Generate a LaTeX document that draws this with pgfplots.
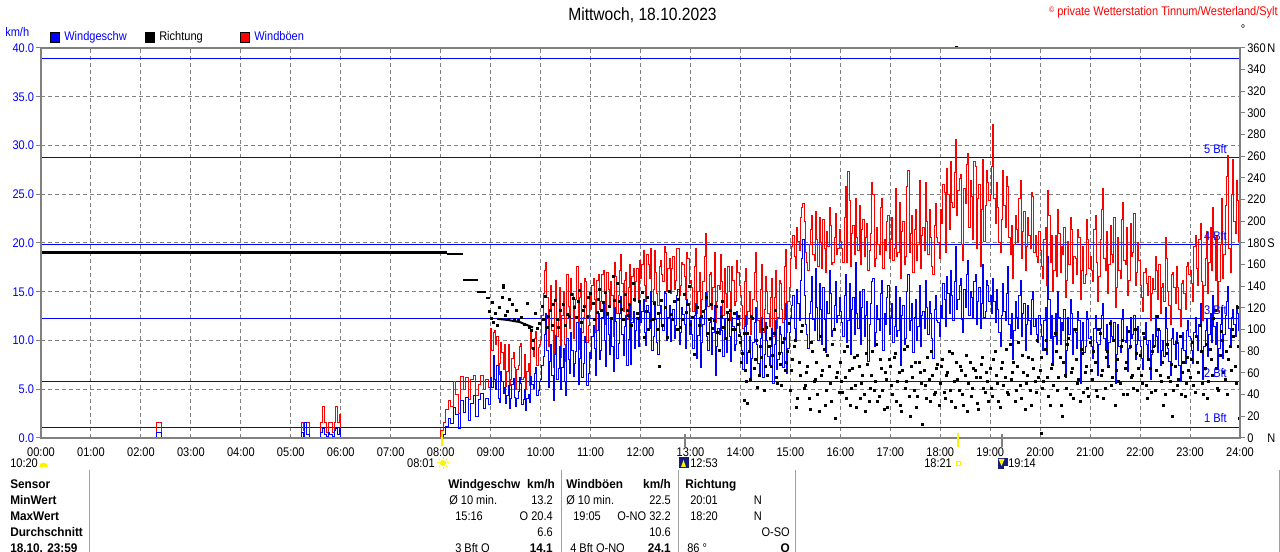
\documentclass[border=0pt]{standalone}
\usepackage{fontspec}
\setmainfont{Liberation Sans}[FakeStretch=0.88]
\newfontfamily\bff{Liberation Sans}[FakeStretch=0.94]
\usepackage{pgfplots}
\pgfplotsset{compat=1.18}
\usepackage{pgfplotstable}
\definecolor{wblue}{RGB}{0,0,255}
\definecolor{wred}{RGB}{255,0,0}
\definecolor{wgray}{RGB}{128,128,128}
\definecolor{lgray}{RGB}{160,160,160}
\definecolor{mblue}{RGB}{20,30,120}
\newcommand\tk{\fontsize{9.4}{11}\selectfont}
\newcommand\tb{\fontsize{9.4}{11}\bff\bfseries}
\newcommand\dl[2]{\makebox[15pt][l]{#1}#2}

\pgfplotstableread{
m v g
0 0 0
139 0.6 1.6
142 0.6 1.6
145 0 0
313 0.6 1.6
315 0.2 0.8
316 1.6 1.6
319 0.4 1.6
322 0 0
336 0.6 1.6
338 1.0 3.2
340 0.4 1.6
343 0.2 0.6
345 0.6 1.6
347 0.4 1.6
350 0.2 0.6
352 0.8 1.6
354 1.0 3.2
356 0.4 1.6
358 1.0 2.4
360 0 0
480 0.0 0.8
483 0.4 1.6
486 1.2 2.9
489 2.0 3.8
492 1.5 3.2
495 3.1 5.8
498 2.4 4.5
501 1.0 2.5
504 3.8 6.3
507 2.6 5.0
510 4.2 6.2
513 1.8 3.9
516 3.5 6.0
519 4.4 6.4
522 2.2 4.4
525 3.9 5.5
528 4.6 6.4
531 3.0 5.0
534 4.1 6.0
537 3.4 5.2
540 6.2 11.2
541.5 5.2 9.0
543 8.5 10.8
544.5 6.0 11.0
546 5.0 9.6
547.5 7.4 10.4
549 4.1 6.5
550.5 3.6 7.6
552 6.8 9.8
553.5 5.8 8.8
555 4.6 7.0
556.5 5.2 9.6
558 3.5 5.3
559.5 4.4 6.8
561 5.4 9.6
562.5 3.0 5.4
564 4.0 6.0
565.5 5.5 8.2
567 6.1 8.8
568.5 4.2 7.2
570 3.2 5.0
571.5 4.0 7.0
573 4.8 7.4
574.5 6.2 9.4
576 5.6 9.7
577.5 3.4 6.0
579 3.9 6.2
580.5 5.0 8.6
582 2.8 5.1
583.5 4.0 6.8
585 4.5 7.6
586.5 3.6 5.4
588 6.3 11.0
589.5 5.5 9.2
591 5.1 8.4
592.5 6.6 10.2
594 7.2 10.9
595.5 4.4 7.4
597 4.9 9.3
598.5 5.8 9.6
600 6.0 10.0
601.5 7.4 12.6
603 8.4 14.8
604.5 10.6 17.2
606 12.8 18.0
607.5 9.0 14.4
609 5.2 9.4
610.5 7.8 13.0
612 9.6 15.6
613.5 6.4 11.0
615 3.8 7.2
616.5 8.6 14.0
618 10.5 16.2
619.5 6.0 10.4
621 7.1 12.0
622.5 9.4 15.4
624 5.0 8.3
625.5 7.2 12.6
627 9.2 15.0
628.5 5.8 9.6
630 4.4 7.8
631.5 10.2 16.8
633 8.0 13.5
634.5 6.6 11.2
636 10.8 16.4
637.5 9.0 14.8
639 6.3 10.2
640.5 7.6 13.6
642 8.9 14.2
643.5 11.8 17.6
645 5.5 9.1
646.5 8.2 14.4
648 11.2 15.8
649.5 6.2 10.8
651 7.6 12.4
652.5 10.4 16.4
654 9.8 16.0
655.5 5.4 9.8
657 6.6 11.5
658.5 8.8 14.6
660 8.2 13.2
661.5 10.4 15.6
663 11.5 16.4
664.5 9.2 14.2
666 6.4 10.8
667.5 11.0 16.2
669 12.8 16.8
670.5 8.0 13.2
672 9.0 14.0
673.5 12.4 16.8
675 13.9 17.2
676.5 10.0 14.8
678 7.3 11.6
679.5 12.6 17.0
681 10.6 15.2
682.5 8.6 13.4
684 12.2 16.0
685.5 9.4 14.6
687 6.8 10.4
688.5 13.4 18.0
690 11.9 16.6
691.5 8.2 12.8
693 9.7 14.6
694.5 12.8 17.2
696 14.5 18.8
697.5 10.6 15.8
699 8.5 13.0
700.5 11.4 16.2
702 12.6 17.0
703.5 7.4 12.2
705 10.1 15.4
706.5 13.6 17.8
708 7.5 12.0
709.5 11.8 16.6
711 13.0 17.4
712.5 9.2 14.0
714 11.0 16.0
715.5 12.4 17.4
717 9.4 14.2
718.5 14.0 18.2
720 11.8 16.4
721.5 13.0 17.8
723 14.2 19.2
724.5 10.8 15.6
726 9.5 14.0
727.5 13.6 18.8
729 12.9 17.8
730.5 11.2 16.4
732 15.0 19.4
733.5 9.0 14.0
735 10.4 15.2
736.5 14.0 19.2
738 12.2 17.0
739.5 9.8 14.8
741 8.6 13.6
742.5 12.8 17.6
744 13.6 18.2
745.5 11.4 16.8
747 11.0 16.0
748.5 15.0 19.6
750 14.8 19.0
751.5 10.0 15.0
753 12.4 17.4
754.5 13.6 18.4
756 9.9 14.8
757.5 12.0 17.4
759 13.2 18.6
760.5 10.2 15.2
762 11.5 16.2
763.5 14.6 19.4
765 15.2 19.4
766.5 9.6 14.6
768 10.8 15.6
769.5 13.4 18.0
771 12.7 17.8
772.5 11.6 16.6
774 9.2 14.2
775.5 14.2 19.0
777 13.8 18.4
778.5 10.6 15.8
780 12.0 16.2
781.5 10.6 15.4
783 9.2 13.0
784.5 12.6 17.6
786 13.8 19.4
787.5 8.2 12.8
789 10.5 15.0
790.5 12.4 17.0
792 7.2 11.4
793.5 9.8 14.2
795 11.6 16.0
796.5 13.2 18.6
798 14.9 21.0
799.5 10.4 15.0
801 9.0 13.5
802.5 11.8 16.8
804 12.4 17.0
805.5 8.6 13.2
807 10.8 15.4
808.5 13.6 19.0
810 6.4 11.8
811.5 9.4 14.0
813 11.2 15.6
814.5 10.6 15.2
816 13.5 18.8
817.5 11.0 16.0
819 8.4 12.6
820.5 12.2 17.4
822 10.2 14.8
823.5 8.8 13.4
825 12.8 17.6
826.5 10.4 15.0
828 7.8 12.0
829.5 12.4 17.6
831 11.4 16.2
832.5 9.0 13.6
834 9.6 14.0
835.5 13.0 18.2
837 12.2 17.0
838.5 10.8 15.6
840 10.4 14.6
841.5 9.0 13.6
843 7.0 11.2
844.5 11.4 16.0
846 12.6 17.4
847.5 7.6 11.6
849 8.8 13.0
850.5 10.4 15.0
852 5.8 10.6
853.5 8.2 12.4
855 9.8 14.2
856.5 11.8 17.0
858 13.4 19.0
859.5 9.6 14.0
861 7.6 12.0
862.5 6.4 10.8
864 10.2 15.2
865.5 12.4 17.8
867 6.2 10.8
868.5 8.6 13.2
870 11.8 16.6
871.5 10.0 15.0
873 8.4 12.8
874.5 7.4 11.4
876 9.4 14.4
877.5 11.2 16.4
879 5.6 10.4
880.5 9.6 14.4
882 12.0 17.2
883.5 7.0 11.2
885 8.0 12.4
886.5 11.4 16.2
888 10.6 15.8
889.5 8.8 13.2
891 7.2 11.8
892.5 12.2 17.6
894 13.8 19.3
895.5 6.6 10.8
897 9.2 14.0
898.5 10.8 15.4
900 12.4 18.4
901.5 13.6 19.6
903 14.6 20.8
904.5 11.2 18.6
906 10.2 17.4
907.5 15.2 21.6
909 13.8 20.2
910.5 12.0 19.2
912 16.2 22.6
913.5 18.4 23.6
915 20.4 24.0
916.5 14.6 22.2
918 11.6 19.0
919.5 10.6 18.0
921 9.2 17.2
922.5 12.8 19.8
924 14.0 21.4
925.5 16.6 22.8
927 12.2 18.8
928.5 11.0 18.2
930 17.4 23.2
931.5 13.4 20.4
933 10.0 17.6
934.5 15.8 22.6
936 13.2 20.0
937.5 9.6 17.4
939 15.4 22.4
940.5 12.2 19.4
942 8.8 17.0
943.5 14.0 21.2
945 12.8 19.6
946.5 17.2 23.6
948 14.8 21.8
949.5 10.4 17.8
951 11.0 18.0
952.5 13.6 20.6
954 16.0 23.0
955.5 11.8 18.8
957 12.6 19.4
958.5 14.4 21.4
960 13.0 20.2
961.5 11.8 19.4
963 10.4 18.0
964.5 14.6 22.6
966 16.8 25.8
967.5 9.8 18.0
969 12.0 27.3
970.5 15.8 24.4
972 8.6 17.6
973.5 13.2 21.0
975 14.4 21.8
976.5 10.6 18.8
978 18.0 24.6
979.5 12.8 20.6
981 11.2 19.2
982.5 15.0 23.8
984 9.6 17.8
985.5 13.4 21.4
987 15.2 22.4
988.5 10.4 18.6
990 12.6 20.6
991.5 14.0 22.0
993 7.8 17.2
994.5 11.6 19.2
996 13.8 21.0
997.5 16.0 26.2
999 16.4 25.0
1000.5 9.4 17.6
1002 10.8 18.4
1003.5 13.6 21.6
1005 12.2 19.8
1006.5 11.0 18.8
1008 14.8 23.6
1009.5 16.2 24.6
1011 9.0 17.4
1012.5 12.8 20.4
1014 11.6 19.2
1015.5 14.4 22.2
1017 15.6 22.8
1018.5 10.6 18.4
1020 12.4 20.4
1021.5 13.8 22.6
1023 9.8 18.2
1024.5 11.4 19.4
1026 15.5 25.6
1027.5 10.4 18.6
1029 11.0 19.0
1030.5 14.4 24.2
1032 7.4 16.4
1033.5 12.6 21.2
1035 13.6 22.2
1036.5 9.6 17.8
1038 10.2 18.6
1039.5 15.0 25.8
1041 16.8 27.4
1042.5 11.0 19.0
1044 12.0 21.0
1045.5 13.8 22.8
1047 8.8 17.0
1048.5 12.4 21.4
1050 14.2 23.4
1051.5 10.0 18.2
1053 11.4 19.8
1054.5 15.6 26.4
1056 9.4 17.4
1057.5 12.6 20.8
1059 13.0 21.6
1060.5 11.2 19.2
1062 16.2 26.2
1063.5 13.4 22.2
1065 10.6 18.8
1066.5 14.0 23.4
1068 12.8 20.6
1069.5 10.2 17.6
1071 8.2 16.8
1072.5 13.2 21.8
1074 14.6 24.0
1075.5 12.0 20.6
1077 11.8 20.0
1078.5 10.4 18.4
1080 13.6 23.4
1081.5 12.4 22.0
1083 15.8 26.0
1084.5 14.2 25.2
1086 11.4 19.0
1087.5 16.6 27.6
1089 14.8 25.0
1090.5 12.8 21.4
1092 17.2 28.4
1093.5 14.6 24.2
1095 12.0 23.6
1096.5 16.0 27.2
1098 19.6 30.6
1099.5 13.2 22.8
1101 14.2 25.4
1102.5 15.6 26.6
1104 16.4 27.0
1105.5 12.2 19.8
1107 10.8 18.2
1108.5 15.2 25.6
1110 13.4 24.0
1111.5 16.8 28.0
1113 18.2 29.2
1114.5 12.6 21.6
1116 15.0 26.4
1117.5 14.4 24.8
1119 12.4 20.4
1120.5 16.0 28.4
1122 16.8 27.8
1123.5 11.6 19.4
1125 14.0 24.6
1126.5 15.4 26.0
1128 11.2 17.6
1129.5 13.8 23.4
1131 17.8 28.6
1132.5 12.4 20.2
1134 13.0 23.8
1135.5 16.2 27.4
1137 15.6 26.2
1138.5 14.0 24.4
1140 14.6 25.0
1141.5 12.8 27.8
1143 16.4 32.2
1144.5 14.0 24.6
1146 11.8 22.0
1147.5 15.2 26.2
1149 13.2 23.6
1150.5 10.8 20.0
1152 9.4 19.0
1153.5 12.6 22.4
1155 15.8 27.4
1156.5 13.0 23.8
1158 12.0 21.6
1159.5 14.8 26.8
1161 17.6 25.8
1162.5 11.6 20.6
1164 10.2 18.8
1165.5 12.8 21.8
1167 8.0 16.4
1168.5 11.0 19.8
1170 14.0 22.8
1171.5 12.4 21.4
1173 11.2 20.0
1174.5 14.6 24.6
1176 16.2 26.4
1177.5 10.4 18.4
1179 12.8 21.2
1180.5 13.8 23.2
1182 9.0 17.2
1183.5 11.6 19.6
1185 13.6 22.6
1186.5 12.0 20.8
1188 10.6 19.4
1189.5 14.2 25.2
1191 15.0 24.8
1192.5 11.4 19.0
1194 12.2 20.8
1195.5 10.6 18.6
1197 9.8 18.0
1198.5 12.6 21.2
1200 11.6 19.2
1201.5 10.4 17.6
1203 9.0 16.4
1204.5 12.0 20.4
1206 13.4 21.6
1207.5 8.6 15.6
1209 18.6 25.4
1210.5 14.2 22.8
1212 10.2 18.0
1213.5 12.6 20.8
1215 7.4 15.0
1216.5 10.4 17.2
1218 12.8 20.8
1219.5 9.6 16.6
1221 15.0 23.4
1222.5 12.4 21.0
1224 9.6 17.0
1225.5 11.8 19.6
1227 11.0 18.8
1228.5 13.2 21.6
1230 6.2 14.4
1231.5 9.0 16.2
1233 12.4 20.2
1234.5 10.6 17.8
1236 14.2 22.6
1237.5 12.8 21.4
1239 8.6 15.8
1240.5 11.2 18.6
1242 10.8 18.4
1243.5 9.2 16.8
1245 13.0 21.4
1246.5 12.0 20.6
1248 5.6 14.2
1249.5 10.0 17.2
1251 11.8 19.6
1252.5 8.8 15.8
1254 9.4 16.8
1255.5 13.0 22.4
1257 12.2 20.4
1258.5 10.2 17.4
1260 10.4 18.6
1261.5 9.4 17.2
1263 8.2 16.0
1264.5 11.2 21.4
1266 12.6 22.8
1267.5 9.8 18.0
1269 6.4 14.0
1270.5 9.6 16.6
1272 11.2 20.4
1273.5 12.6 23.4
1275 13.8 25.6
1276.5 10.2 18.4
1278 9.0 17.2
1279.5 11.6 21.2
1281 7.2 14.8
1282.5 9.8 17.8
1284 12.0 21.8
1285.5 10.4 18.8
1287 10.0 18.0
1288.5 11.8 22.6
1290 5.6 13.4
1291.5 8.6 15.4
1293 11.6 20.6
1294.5 9.4 17.2
1296 8.8 16.4
1297.5 12.2 22.4
1299 13.2 24.2
1300.5 10.0 18.2
1302 9.8 17.8
1303.5 11.4 21.6
1305 6.8 14.6
1306.5 9.2 16.2
1308 12.4 22.0
1309.5 10.2 18.6
1311 10.6 19.0
1312.5 12.6 23.0
1314 8.0 15.6
1315.5 9.6 17.0
1317 11.4 20.0
1318.5 10.0 18.2
1320 9.4 15.6
1321.5 8.2 14.4
1323 7.0 13.0
1324.5 10.4 17.0
1326 11.8 17.4
1327.5 9.6 15.8
1329 8.2 14.6
1330.5 10.0 16.6
1332 6.0 12.0
1333.5 8.6 14.8
1335 10.6 16.4
1336.5 9.4 15.2
1338 12.6 18.6
1339.5 10.4 17.2
1341 8.8 14.2
1342.5 11.0 17.8
1344 7.4 12.8
1345.5 9.0 15.4
1347 10.0 15.8
1348.5 8.4 14.0
1350 13.4 20.6
1351.5 11.2 18.4
1353 9.2 15.0
1354.5 7.8 13.6
1356 6.4 11.6
1357.5 10.2 16.8
1359 11.2 17.0
1360.5 9.6 15.4
1362 8.0 13.8
1363.5 10.8 17.6
1365 9.8 15.4
1366.5 7.4 13.2
1368 5.8 11.4
1369.5 9.2 15.8
1371 10.8 16.2
1372.5 9.0 14.8
1374 7.6 13.2
1375.5 11.0 17.6
1377 12.0 18.0
1378.5 10.4 16.8
1380 10.2 17.2
1381.5 9.0 15.8
1383 7.6 14.0
1384.5 10.8 19.6
1386 12.4 20.8
1387.5 10.4 17.4
1389 9.0 15.6
1390.5 11.6 20.4
1392 13.8 22.0
1393.5 8.8 16.0
1395 6.0 12.0
1396.5 9.4 15.6
1398 11.0 18.4
1399.5 12.2 21.2
1401 8.4 14.8
1402.5 10.6 18.0
1404 12.8 21.6
1405.5 9.8 17.2
1407 14.6 23.6
1408.5 11.4 20.6
1410 9.6 16.2
1411.5 11.8 20.8
1413 7.0 13.0
1414.5 9.2 16.0
1416 11.6 19.8
1417.5 13.4 24.6
1419 8.2 16.4
1420.5 10.6 18.8
1422 12.6 23.8
1423.5 14.0 26.8
1425 15.5 29.0
1426.5 11.2 19.4
1428 9.4 17.0
1429.5 12.4 25.0
1431 13.2 28.6
1432.5 11.6 22.2
1434 10.4 21.0
1435.5 13.6 26.4
1437 12.8 24.4
1438.5 11.0 20.2
1440 11.0 20.2
}\wind

\pgfplotstableread{
m d
539 117
541 110
542 125
544 107
546 115
548 104
551 120
554 130
555 139
556 141
558 113
560 117
561 109
563 128
566 123
569 109
571 118
574 108
577 111
581 105
584 124
587 102
589 99
591 83
592 90
594 115
596 101
599 106
602 121
604 109
606 131
608 102
610 112
612 118
614 104
616 123
618 127
620 109
622 102
624 118
627 123
630 104
632 114
635 112
637 132
639 129
641 120
643 111
645 126
647 136
649 107
651 118
653 121
656 112
658 130
660 133
663 124
665 109
668 116
670 128
671 137
673 118
675 125
678 134
680 115
683 121
685 110
687 149
689 127
692 143
695 126
697 119
699 109
702 132
704 118
706 113
707 123
709 104
711 143
713 128
716 115
718 110
719 126
722 134
725 93
727 117
728 130
729 100
732 108
735 109
737 124
740 100
742 115
743 66
745 127
747 104
750 120
752 93
755 135
757 114
758 109
761 126
764 100
766 128
768 102
770 109
773 132
775 116
776 123
779 140
780 105
782 111
785 77
788 120
791 104
793 112
796 117
799 130
801 96
803 109
805 123
807 101
809 108
811 121
813 97
815 81
817 112
819 126
820 102
822 92
824 116
826 109
828 118
831 100
833 115
834 100
836 105
838 112
839 95
840 88
841.5 70
843 78
844.5 96
845 35
846 62
847.5 52
848 32
849 96
850.5 80
852 54
853.5 112
855 110
856.5 64
858 72
859.5 90
861 47
862.5 58
864 84
865.5 74
867 100
868.5 44
870 66
871.5 102
873 58
874.5 84
876 92
877.5 66
879 76
880.5 96
882 118
883.5 56
885 50
886.5 78
888 68
889.5 48
891 88
892.5 92
894 62
895.5 70
897 80
898.5 106
900 44
901.5 62
903 72
904.5 84
906 90
907.5 28
909 36
910.5 70
912 58
913.5 98
915 104
916.5 46
918 48
919.5 60
921 66
922.5 36
924 26
925.5 88
927 80
928.5 52
930 54
931.5 70
933 40
934.5 24
936 94
937.5 58
939 62
940.5 82
942 30
943.5 44
945 76
946.5 66
948 50
949.5 34
951 86
952.5 100
954 18
955.5 56
957 60
958.5 42
960 70
961.5 52
963 42
964.5 80
966 56
967.5 36
969 84
970.5 62
972 30
973.5 46
975 64
976.5 74
978 48
979.5 28
981 76
982.5 66
984 36
985.5 50
987 58
988.5 40
990 24
991.5 78
993 68
994.5 34
996 46
997.5 58
999 80
1000.5 44
1002 52
1003.5 86
1005 34
1006.5 38
1008 72
1009.5 64
1011 44
1012.5 26
1014 60
1015.5 54
1017 28
1018.5 72
1020 66
1021.5 48
1023 40
1024.5 74
1026 78
1027.5 34
1029 52
1030.5 60
1032 30
1033.5 24
1035 62
1036.5 82
1038 46
1039.5 52
1041 84
1042.5 38
1044 20
1045.5 66
1047 56
1048.5 44
1050 70
1051.5 28
1053 38
1054.5 70
1056 60
1057.5 50
1059 12
1060.5 62
1062 48
1063.5 36
1065 74
1066.5 54
1068 34
1069.5 80
1071 58
1072.5 40
1074 42
1075.5 64
1077 68
1078.5 30
1080 50
1081.5 66
1083 72
1084.5 42
1086 36
1087.5 58
1089 60
1090.5 80
1092 44
1093.5 34
1095 78
1096.5 52
1098 28
1099.5 70
1100 360
1101 54
1102.5 44
1104 66
1105.5 62
1107 40
1108.5 30
1110 58
1111.5 76
1113 24
1114.5 50
1116 70
1117.5 38
1119 46
1120.5 64
1122 62
1123.5 56
1125 32
1126.5 26
1128 56
1129.5 68
1131 74
1132.5 46
1134 42
1135.5 60
1137 52
1138.5 34
1140 64
1141.5 46
1143 38
1144.5 72
1146 80
1147.5 58
1149 50
1150.5 34
1152 28
1153.5 64
1155 70
1156.5 48
1158 56
1159.5 82
1161 42
1162.5 40
1164 86
1165.5 54
1167 60
1168.5 70
1170 34
1171.5 44
1173 66
1174.5 88
1176 48
1177.5 36
1179 76
1180.5 60
1182 26
1183.5 50
1185 58
1186.5 74
1188 44
1189.5 30
1191 72
1192.5 64
1194 52
1195.5 42
1197 90
1198.5 56
1200 62
1201 4
1201.5 74
1203 46
1204.5 52
1206 82
1207.5 90
1209 56
1210.5 38
1212 30
1213.5 64
1215 68
1216.5 48
1218 96
1219.5 80
1221 44
1222.5 56
1224 74
1225.5 30
1227 20
1228.5 70
1230 58
1231.5 46
1233 86
1234.5 92
1236 40
1237.5 60
1239 64
1240.5 36
1242 100
1243.5 72
1245 50
1246.5 54
1248 34
1249.5 82
1251 78
1252.5 42
1254 60
1255.5 66
1257 46
1258.5 38
1260 88
1261.5 62
1263 54
1264.5 80
1266 70
1267.5 44
1269 38
1270.5 100
1272 96
1273.5 58
1275 62
1276.5 36
1278 46
1279.5 74
1281 80
1282.5 66
1284 106
1285.5 48
1287 56
1288.5 90
1290 30
1291.5 62
1293 72
1294.5 52
1296 50
1297.5 84
1299 90
1300.5 40
1302 64
1303.5 70
1305 40
1306.5 98
1308 84
1309.5 56
1311 58
1312.5 46
1314 100
1315.5 78
1317 44
1318.5 64
1320 76
1321.5 58
1323 50
1324.5 96
1326 92
1327.5 48
1329 36
1330.5 72
1332 64
1333.5 42
1335 80
1336.5 84
1338 44
1339.5 62
1341 112
1342.5 100
1344 58
1345.5 52
1347 70
1348.5 30
1350 40
1351.5 78
1353 86
1354.5 56
1356 52
1357.5 68
1359 20
1360.5 44
1362 66
1363.5 88
1365 48
1366.5 54
1368 94
1369.5 40
1371 60
1372.5 70
1374 38
1375.5 50
1377 74
1378.5 62
1380 56
1381.5 72
1383 88
1384.5 48
1386 42
1387.5 94
1389 70
1390.5 60
1392 104
1393.5 80
1395 50
1396.5 40
1398 64
1399.5 86
1401 36
1402.5 52
1404 82
1405.5 72
1407 58
1408.5 110
1410 118
1411.5 64
1413 46
1414.5 44
1416 76
1417.5 98
1419 90
1420.5 60
1422 54
1423.5 80
1425 40
1426.5 72
1428 84
1429.5 62
1431 100
1432.5 94
1434 66
1435.5 50
1437 120
1438.5 84
1439 18
}\richtung

\begin{document}
\begin{tikzpicture}[x=0.75pt,y=0.75pt]
\fill[white] (0,0) rectangle (1280,552);
\useasboundingbox (0,0) rectangle (1280,552);

\begin{axis}[
  at={(30.75pt,85.5pt)}, anchor=south west,
  scale only axis, width=899.25pt, height=292.5pt,
  xmin=0, xmax=1440, ymin=0, ymax=40,
  axis line style={draw=none},
  tick pos=left, tick align=outside,
  xtick={0,60,...,1440},
  xticklabels={00:00,01:00,02:00,03:00,04:00,05:00,06:00,07:00,08:00,09:00,10:00,11:00,12:00,13:00,14:00,15:00,16:00,17:00,18:00,19:00,20:00,21:00,22:00,23:00,24:00},
  xtick style={draw=none},
  xticklabel style={font=\tk, inner sep=0pt, anchor=north, yshift=-3.5pt},
  ytick={0,5,...,40},
  ytick style={wgray, line width=0.75pt},
  major tick length=3.5pt,
  yticklabel style={/pgf/number format/fixed, /pgf/number format/fixed zerofill, /pgf/number format/precision=1, /pgf/number format/assume math mode=true, wblue, font=\tk, inner sep=0pt, anchor=east, xshift=-1.5pt},
  grid=major,
  major grid style={wgray, line width=0.75pt, dash pattern=on 3pt off 2.25pt},
]
\addplot[wblue, line width=0.8pt, forget plot] coordinates {(0,1.08) (1440,1.08)};
\addplot[wblue, line width=0.8pt, forget plot] coordinates {(0,5.76) (1440,5.76)};
\addplot[wblue, line width=0.8pt, forget plot] coordinates {(0,12.24) (1440,12.24)};
\addplot[wblue, line width=0.8pt, forget plot] coordinates {(0,19.8) (1440,19.8)};
\addplot[wblue, line width=0.8pt, forget plot] coordinates {(0,28.8) (1440,28.8)};
\addplot[wblue, line width=0.8pt, forget plot] coordinates {(0,38.88) (1440,38.88)};
\addplot[wred, line width=0.75pt, const plot] table[x=m, y=g] {\wind};
\addplot[wblue, line width=0.75pt, const plot] table[x=m, y=v] {\wind};
\end{axis}

\begin{axis}[
  at={(30.75pt,85.5pt)}, anchor=south west,
  scale only axis, width=899.25pt, height=292.5pt,
  xmin=0, xmax=1440, ymin=0, ymax=360,
  axis x line=none, axis y line*=right,
  axis line style={draw=none},
  tick align=outside, major tick length=3.5pt,
  ytick={0,20,...,360},
  yticklabels={\dl{0}{N},20,40,60,80,100,120,140,160,\dl{180}{S},200,220,240,260,280,300,320,340,\dl{360}{N}},
  ytick style={wgray, line width=0.75pt},
  yticklabel style={font=\tk, black, inner sep=0pt, anchor=west, xshift=1.75pt},
  clip=false,
]
\addplot[black, line width=1.9pt] coordinates {(0,171) (488,171)};
\addplot[black, line width=1.9pt] coordinates {(488,170) (507,170)};
\addplot[black, line width=1.5pt] coordinates {(507,146) (525,146)};
\addplot[black, line width=1.5pt] coordinates {(524,135) (535,135)};
\addplot[black, line width=1.5pt] coordinates {(534,129) (539,129)};
\addplot[black, line width=1.5pt] coordinates {(548,110) (560,109) (575,107) (591,102)};
\addplot[only marks, mark=square*, mark size=0.75pt, mark options={black, line width=0pt}] table[x=m, y=d] {\richtung};
\end{axis}

% frame
\draw[wgray, line width=1.5pt] (41,114) rectangle (1240,504);

% Beaufort labels
\foreach \yy/\lab in {154/5, 241/4, 315/3, 378/2, 423/1}
  \node[anchor=base east, inner sep=0pt, wblue, font=\tk] at (1227,552-\yy) {\lab\ Bft};

% title and header
\node[anchor=base, inner sep=0pt, font=\fontsize{13.3}{15}\selectfont] at (642.5,552-20.5) {Mittwoch, 18.10.2023};
\node[anchor=base east, inner sep=0pt, wred, font=\tk] at (1278,552-15.5) {\raisebox{2pt}{\fontsize{6}{7}\selectfont ©} private Wetterstation Tinnum/Westerland/Sylt};
\node[anchor=base west, inner sep=0pt, wblue, font=\tk] at (5,552-37) {km/h};
\node[anchor=base, inner sep=0pt, font=\tk] at (1243,552-34) {°};

% legend
\filldraw[fill=wblue, draw=black, line width=0.75pt] (50.5,552-42.5) rectangle (59.5,552-33);
\node[anchor=base west, inner sep=0pt, wblue, font=\tk] at (64,552-41) {Windgeschw};
\filldraw[fill=black, draw=black, line width=0.75pt] (145.5,552-42.5) rectangle (154.5,552-33);
\node[anchor=base west, inner sep=0pt, black, font=\tk] at (159,552-41) {Richtung};
\filldraw[fill=wred, draw=black, line width=0.75pt] (240.5,552-42.5) rectangle (249.5,552-33);
\node[anchor=base west, inner sep=0pt, wblue, font=\tk] at (254,552-41) {Windböen};

% sun / moon markers
\draw[yellow, line width=1.5pt] (441.5,552-431) -- (441.5,552-446);
\draw[yellow, line width=1.5pt] (957.8,552-433) -- (957.8,552-447);
\draw[wgray, line width=1.5pt] (684.7,552-434) -- (684.7,552-447);
\draw[wgray, line width=1.5pt] (1001.7,552-434) -- (1001.7,552-447);

\node[anchor=base west, inner sep=0pt, font=\tk] at (10,552-467.5) {10:20};
\fill[yellow] (39,552-467) arc[start angle=180, end angle=0, radius=4.5] -- cycle;
\node[anchor=base east, inner sep=0pt, font=\tk] at (435,552-467.5) {08:01};
\fill[yellow] (443,552-463) circle (3);
\foreach \a in {0,45,...,315}
  \draw[yellow, line width=0.75pt] (443,552-463) ++(\a:4) -- ++(\a:2);
\fill[mblue] (678.5,552-468) rectangle (688.5,552-457);
\fill[yellow] (681,552-467) -- (683.5,552-460) -- (686,552-467) -- cycle;
\node[anchor=base west, inner sep=0pt, font=\tk] at (690,552-467.5) {12:53};
\node[anchor=base west, inner sep=0pt, font=\tk] at (924,552-467.5) {18:21};
\draw[yellow, line width=0.75pt] (956.5,552-466) rectangle (960.5,552-462);
\fill[mblue] (997.5,552-469) rectangle (1007.5,552-458);
\fill[yellow] (998.5,552-459) -- (1001.5,552-466) -- (1004.5,552-459) -- cycle;
\fill[white] (1004,552-469) rectangle (1007.5,552-466);
\node[anchor=base west, inner sep=0pt, font=\tk] at (1008,552-467.5) {19:14};

% table
\foreach \xx in {89,561,678,795,1279}
  \draw[lgray, line width=0.75pt] (\xx,0) -- (\xx,552-470);
\node[anchor=base west, inner sep=0pt, font=\tb] at (10,552-488.5) {Sensor};
\node[anchor=base west, inner sep=0pt, font=\tb] at (10,552-504.5) {MinWert};
\node[anchor=base west, inner sep=0pt, font=\tb] at (10,552-520.5) {MaxWert};
\node[anchor=base west, inner sep=0pt, font=\tb] at (10,552-536.5) {Durchschnitt};
\node[anchor=base west, inner sep=0pt, font=\tb] at (10,552-552.5) {18.10. 23:59};

\node[anchor=base west, inner sep=0pt, font=\tb] at (448,552-488.5) {Windgeschw};
\node[anchor=base east, inner sep=0pt, font=\tb] at (555,552-488.5) {km/h};
\node[anchor=base west, inner sep=0pt, font=\tb] at (566,552-488.5) {Windböen};
\node[anchor=base east, inner sep=0pt, font=\tb] at (671,552-488.5) {km/h};
\node[anchor=base west, inner sep=0pt, font=\tb] at (685,552-488.5) {Richtung};

\node[anchor=base west, inner sep=0pt, font=\tk] at (449,552-504.5) {Ø 10 min.};
\node[anchor=base east, inner sep=0pt, font=\tk] at (553,552-504.5) {13.2};
\node[anchor=base west, inner sep=0pt, font=\tk] at (566,552-504.5) {Ø 10 min.};
\node[anchor=base east, inner sep=0pt, font=\tk] at (671,552-504.5) {22.5};
\node[anchor=base west, inner sep=0pt, font=\tk] at (690,552-504.5) {20:01};
\node[anchor=base east, inner sep=0pt, font=\tk] at (762,552-504.5) {N};

\node[anchor=base west, inner sep=0pt, font=\tk] at (455,552-520.5) {15:16};
\node[anchor=base east, inner sep=0pt, font=\tk] at (553,552-520.5) {O 20.4};
\node[anchor=base west, inner sep=0pt, font=\tk] at (573,552-520.5) {19:05};
\node[anchor=base east, inner sep=0pt, font=\tk] at (671,552-520.5) {O-NO 32.2};
\node[anchor=base west, inner sep=0pt, font=\tk] at (690,552-520.5) {18:20};
\node[anchor=base east, inner sep=0pt, font=\tk] at (762,552-520.5) {N};

\node[anchor=base east, inner sep=0pt, font=\tk] at (553,552-536.5) {6.6};
\node[anchor=base east, inner sep=0pt, font=\tk] at (671,552-536.5) {10.6};
\node[anchor=base east, inner sep=0pt, font=\tk] at (790,552-536.5) {O-SO};

\node[anchor=base west, inner sep=0pt, font=\tk] at (455,552-552.5) {3 Bft O};
\node[anchor=base east, inner sep=0pt, font=\tb] at (553,552-552.5) {14.1};
\node[anchor=base west, inner sep=0pt, font=\tk] at (570,552-552.5) {4 Bft O-NO};
\node[anchor=base east, inner sep=0pt, font=\tb] at (671,552-552.5) {24.1};
\node[anchor=base west, inner sep=0pt, font=\tk] at (687,552-552.5) {86 °};
\node[anchor=base east, inner sep=0pt, font=\tb] at (790,552-552.5) {O};
\end{tikzpicture}
\end{document}
